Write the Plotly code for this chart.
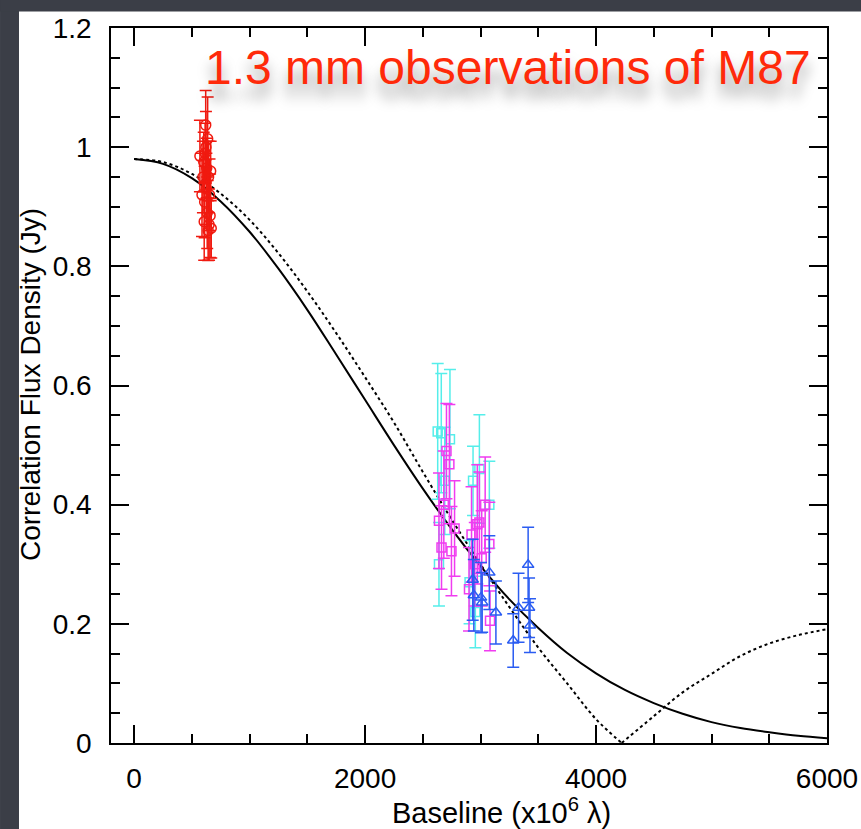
import plotly.graph_objects as go

# ---- data ----
curve_u = [0, 250, 500, 750, 1000, 1250, 1500, 1750, 2000, 2250, 2500, 2750, 3000,
           3250, 3500, 3750, 4000, 4250, 4500, 4750, 5000, 5250, 5500, 5750, 6000]
gauss_v = [0.980, 0.972, 0.948, 0.909, 0.858, 0.796, 0.727, 0.652, 0.576, 0.500, 0.427,
           0.359, 0.297, 0.241, 0.193, 0.151, 0.117, 0.089, 0.067, 0.049, 0.035, 0.025,
           0.018, 0.012, 0.008]

ring_u_left = [0, 250, 500, 750, 1000, 1250, 1500, 1750, 2000, 2250, 2500, 2750, 3000,
               3250, 3500, 3750, 4000, 4222]
ring_v_left = [0.980, 0.975, 0.955, 0.922, 0.878, 0.822, 0.758, 0.688, 0.614, 0.538, 0.455,
               0.375, 0.300, 0.228, 0.160, 0.100, 0.040, 0.0]
ring_u_right = [4222, 4500, 4750, 5000, 5250, 5500, 5750, 6000]
ring_v_right = [0.0, 0.045, 0.085, 0.116, 0.146, 0.167, 0.181, 0.191]

red_u = [570, 588, 596, 603, 607, 611, 615, 620, 622, 626, 629, 633, 637, 641, 645, 649, 653, 658, 663, 668]
red_v = [0.985, 0.92, 0.95, 0.975, 0.875, 0.908, 0.99, 1.037, 1.0, 0.93, 0.965, 0.89, 1.014, 0.86,
         0.95, 0.87, 0.92, 0.885, 0.96, 0.864]
red_e = [0.06, 0.07, 0.06, 0.05, 0.065, 0.06, 0.05, 0.058, 0.06, 0.06, 0.05, 0.06, 0.07, 0.05,
         0.06, 0.06, 0.06, 0.07, 0.05, 0.05]

cyan_u = [2629, 2660, 2690, 2735, 2640, 2935, 2990, 3076, 2905, 2955]
cyan_v = [0.523, 0.52, 0.44, 0.51, 0.30, 0.44, 0.46, 0.40, 0.27, 0.22]
cyan_e = [0.114, 0.10, 0.09, 0.117, 0.07, 0.058, 0.091, 0.073, 0.07, 0.06]

mag_u = [2640, 2662, 2682, 2705, 2730, 2748, 2775, 2900, 2922, 2950, 2972, 2990, 3010, 3040, 3076, 3082]
mag_v = [0.373, 0.328, 0.40, 0.49, 0.468, 0.322, 0.36, 0.258, 0.35, 0.30, 0.367, 0.37, 0.31,
         0.40, 0.334, 0.205]
mag_e = [0.08, 0.07, 0.09, 0.08, 0.10, 0.075, 0.08, 0.07, 0.08, 0.07, 0.10, 0.085, 0.08,
         0.08, 0.07, 0.05]

blue_u = [2932, 2942, 3004, 3014, 3076, 3133, 3283, 3329, 3412, 3420, 3428]
blue_v = [0.274, 0.248, 0.244, 0.236, 0.286, 0.219, 0.172, 0.227, 0.299, 0.227, 0.197]
blue_e = [0.068, 0.06, 0.059, 0.05, 0.062, 0.053, 0.045, 0.058, 0.063, 0.05, 0.045]

title_text = "1.3 mm observations of M87"
x_title = "Baseline (x10<sup>6</sup> λ)"
y_title = "Correlation Flux Density (Jy)"

FONT = "Liberation Sans, Arial, Helvetica, sans-serif"
DARK = "#3b3e47"

fig = go.Figure()


def data_trace(u, v, e, color, symbol, size):
    return go.Scatter(
        x=u, y=v, mode="markers",
        marker=dict(symbol=symbol, size=size, color=color,
                    line=dict(color=color, width=1.5)),
        error_y=dict(type="data", array=e, visible=True, color=color,
                     thickness=1.5, width=6),
        showlegend=False, hoverinfo="skip",
    )


fig.add_trace(go.Scatter(x=curve_u, y=gauss_v, mode="lines",
                         line=dict(color="black", width=2, shape="spline"),
                         showlegend=False))
fig.add_trace(go.Scatter(x=ring_u_left, y=ring_v_left, mode="lines",
                         line=dict(color="black", width=2, dash="dot", shape="spline"),
                         showlegend=False))
fig.add_trace(go.Scatter(x=ring_u_right, y=ring_v_right, mode="lines",
                         line=dict(color="black", width=2, dash="dot", shape="spline"),
                         showlegend=False))

fig.add_trace(data_trace(red_u, red_v, red_e, "#f01a10", "circle-open", 10))
fig.add_trace(data_trace(cyan_u, cyan_v, cyan_e, "#55eeea", "square-open", 9))
fig.add_trace(data_trace(mag_u, mag_v, mag_e, "#f03cf0", "square-open", 9))
fig.add_trace(data_trace(blue_u, blue_v, blue_e, "#2a5cf2", "triangle-up-open", 10))

axis_common = dict(
    showline=True, linewidth=1.5, linecolor="black", mirror="ticks",
    ticks="inside", ticklen=18, tickwidth=1.5, tickcolor="black",
    showgrid=False, zeroline=False,
    tickfont=dict(family=FONT, size=28, color="black"),
)

fig.update_xaxes(range=[-200, 6000], tick0=0, dtick=2000,
                 minor=dict(tick0=0, dtick=500, ticks="inside", ticklen=9,
                            tickwidth=1.5, tickcolor="black", showgrid=False),
                 ticklabelstandoff=10, automargin=False, **axis_common)
fig.update_yaxes(range=[0, 1.2], tick0=0, dtick=0.2,
                 minor=dict(tick0=0, dtick=0.05, ticks="inside", ticklen=9,
                            tickwidth=1.5, tickcolor="black", showgrid=False),
                 ticklabelstandoff=12, automargin=False, **axis_common)

# dark slide background strips (left and top), kept inside the paper
fig.add_shape(type="rect", xref="paper", yref="paper",
              x0=-0.155, x1=-0.1285, y0=-0.1203, y1=1.0392,
              fillcolor=DARK, line=dict(width=0), layer="below")
fig.add_shape(type="rect", xref="paper", yref="paper",
              x0=-0.155, x1=1.0475, y0=1.0231, y1=1.0392,
              fillcolor=DARK, line=dict(width=0), layer="below")

fig.add_annotation(text=title_text, xref="paper", yref="paper",
                   x=0.555, y=0.945, xanchor="center", yanchor="middle",
                   showarrow=False,
                   font=dict(family=FONT, size=48, color="#ff2a0a",
                             shadow="0px 14px 14px rgba(0,0,0,0.4)"))
fig.add_annotation(text=x_title, xref="paper", yref="paper",
                   x=0.5447, y=-0.095, xanchor="center", yanchor="middle",
                   showarrow=False,
                   font=dict(family=FONT, size=29, color="black"))
fig.add_annotation(text=y_title, xref="paper", yref="paper",
                   x=-0.1117, y=0.5007, xanchor="center", yanchor="middle",
                   textangle=-90, showarrow=False,
                   font=dict(family=FONT, size=28, color="black"))

fig.update_layout(
    width=861, height=829, autosize=False,
    margin=dict(l=111, r=34, t=28, b=86),
    paper_bgcolor="white", plot_bgcolor="white",
    showlegend=False,
)

page_fix = ("document.documentElement.style.overflow='hidden';"
            "document.body.style.overflow='hidden';"
            "document.body.style.margin='0';"
            "document.body.style.background='white';")

fig.write_html("out.html", config={"responsive": False}, post_script=page_fix)
